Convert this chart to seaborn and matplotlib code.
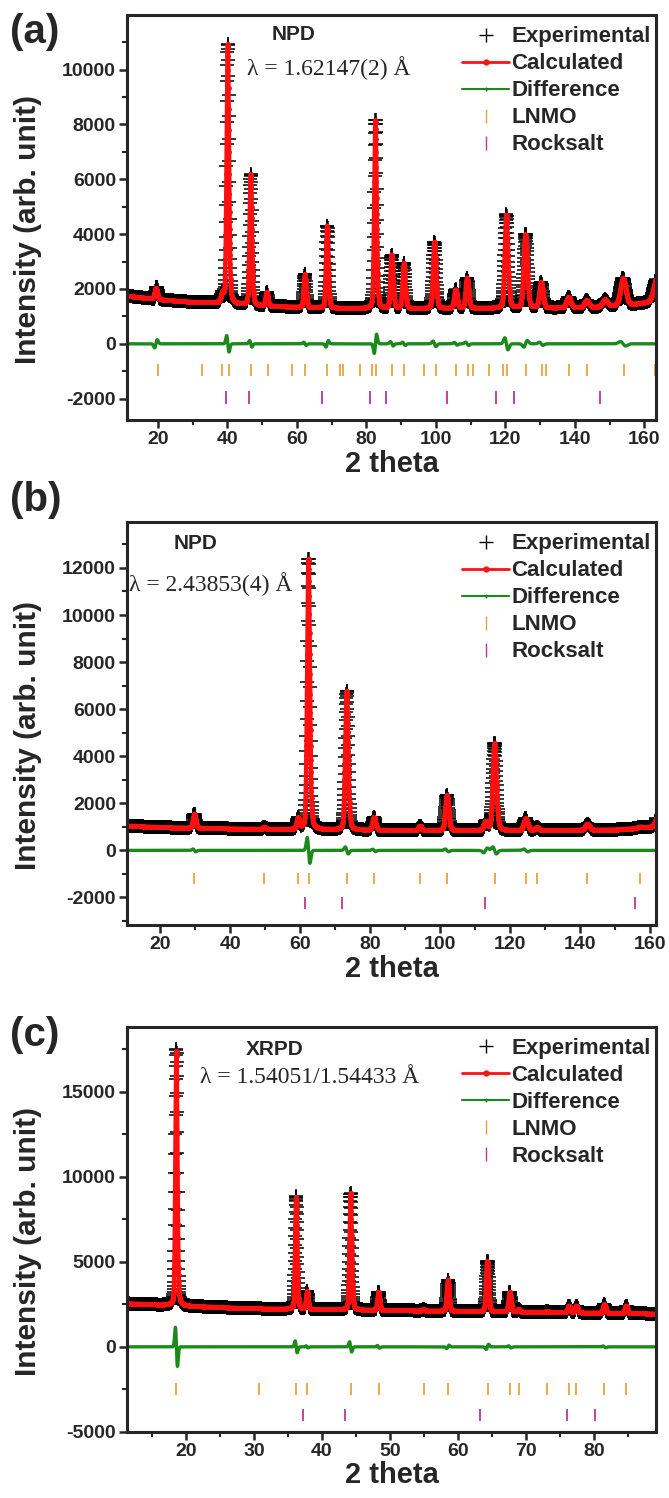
import numpy as np
import pandas as pd
import seaborn as sns
import matplotlib.pyplot as plt
from matplotlib.lines import Line2D
from matplotlib.ticker import MultipleLocator

# ---- panel (a): NPD, lambda = 1.62147 A ----
a_peak_pos = [19.4, 38.5, 40.1, 46.7, 51.3, 62.3, 68.7, 82.6, 87.3, 90.8, 99.6,
              105.7, 109.0, 120.3, 125.8, 130.3, 138.2, 143.4, 148.7, 153.9, 163.5]
a_peak_height = [400, 300, 9450, 4770, 500, 1200, 3000, 6870, 1950, 1650, 2420,
                 670, 1100, 3400, 2680, 930, 380, 250, 250, 1000, 800]
a_peak_fwhm = [0.9, 0.9, 0.8, 0.8, 0.8, 0.8, 0.8, 0.8, 0.9, 0.9, 1.0,
               1.0, 1.0, 1.1, 1.2, 1.2, 1.4, 1.5, 1.6, 1.8, 2.0]
a_diff_amp = [-150, 0, 300, 120, 0, 60, -120, -350, 80, 60, 100,
              50, 60, 220, -120, 60, 0, 0, 0, 80, 0]
a_bg_x = [11, 20, 30, 38, 50, 70, 90, 110, 130, 145, 155, 163.5]
a_bg_y = [1750, 1620, 1520, 1480, 1380, 1300, 1280, 1300, 1300, 1330, 1400, 1550]
a_lnmo = [19.9, 32.8, 38.5, 40.4, 46.9, 51.6, 58.5, 62.4, 68.7, 72.3, 73.4, 78.2,
          81.7, 82.8, 87.5, 90.8, 96.5, 100.0, 105.9, 109.3, 110.6, 115.4, 119.3,
          120.6, 125.9, 130.5, 131.7, 138.2, 143.4, 154.1, 163.1]
a_rocksalt = [39.6, 46.2, 67.3, 81.0, 85.5, 103.3, 117.4, 122.4, 147.3]

# ---- panel (b): NPD, lambda = 2.43853 A ----
b_peak_pos = [29.8, 49.8, 59.4, 62.4, 73.3, 81.1, 94.2, 101.9, 112.9, 115.5,
              124.4, 127.6, 142.0, 157.1, 163.0]
b_peak_height = [600, 100, 450, 11500, 5900, 550, 180, 1500, 350, 3700,
                 500, 120, 250, 60, 1300]
b_peak_fwhm = [0.9, 0.9, 0.9, 0.9, 1.0, 1.0, 1.1, 1.1, 1.2, 1.2,
               1.3, 1.3, 1.5, 1.7, 2.0]
b_diff_amp = [60, 0, 0, 550, 150, 50, 0, 60, -100, 150, 60, 0, 0, 0, 0]
b_bg_x = [10.5, 20, 50, 90, 130, 150, 158, 162]
b_bg_y = [1050, 980, 900, 850, 850, 880, 950, 1000]
b_lnmo = [29.8, 49.8, 59.4, 62.4, 73.3, 81.1, 94.2, 101.9, 115.5, 124.4, 127.6,
          142.0, 157.1]
b_rocksalt = [61.3, 72.0, 112.9, 155.5]

# ---- panel (c): XRPD, lambda = 1.54051/1.54433 A ----
c_peak_pos = [18.6, 30.75, 36.2, 37.8, 44.2, 48.3, 54.9, 58.5, 64.3, 67.6,
              68.9, 73.1, 76.3, 77.4, 81.5, 84.7]
c_peak_height = [15000, 50, 6600, 1050, 6850, 1050, 80, 1800, 2950, 1150,
                 150, 60, 400, 400, 500, 450]
c_peak_fwhm = [0.35, 0.35, 0.35, 0.35, 0.38, 0.38, 0.4, 0.4, 0.42, 0.42,
               0.42, 0.45, 0.45, 0.45, 0.45, 0.45]
c_diff_amp = [1150, 0, 350, 60, 300, 80, 0, -100, -150, 60,
              0, 0, 0, 0, 50, 0]
c_bg_x = [11.35, 20, 30, 50, 70, 89.1]
c_bg_y = [2550, 2400, 2250, 2150, 2050, 1950]
c_lnmo = [18.57, 30.75, 36.19, 37.84, 44.21, 48.32, 54.94, 58.53, 64.34, 67.60,
          68.89, 73.10, 76.31, 77.38, 81.49, 84.70]
c_rocksalt = [37.27, 43.41, 63.27, 76.00, 80.10]

series_labels = ["Experimental", "Calculated", "Difference", "LNMO", "Rocksalt"]
red = "#ff1010"
green = "#1b8a1b"
orange = "#e9a23b"
magenta = "#c2348f"


def calc_profile(x, pos, height, fwhm, bg_x, bg_y):
    y = np.interp(x, bg_x, bg_y)
    for p, h, w in zip(pos, height, fwhm):
        s = w / 2.3548
        gauss = np.exp(-0.5 * ((x - p) / s) ** 2)
        lor = 1.0 / (1.0 + ((x - p) / (w / 2)) ** 2)
        y = y + h * (0.75 * gauss + 0.25 * lor)
    return y


def misfit(x, pos, amp, fwhm):
    d = np.zeros_like(x)
    for p, a, w in zip(pos, amp, fwhm):
        u = (x - p) / (w / 2.3548)
        d = d - a * u * np.exp(-0.5 * u ** 2) / 0.6065
    return d


def draw_panel(ax, x, pos, height, fwhm, damp, bg_x, bg_y, lnmo, rock,
               lnmo_y, rock_y, tick_len):
    calc = calc_profile(x, pos, height, fwhm, bg_x, bg_y)
    diff = misfit(x, pos, damp, fwhm)
    df = pd.DataFrame({"two_theta": x, "obs": calc + diff, "calc": calc, "diff": diff})

    sns.lineplot(data=df, x="two_theta", y="obs", ax=ax, estimator=None, sort=False,
                 color="black", linestyle="", marker="+", markersize=10,
                 markeredgewidth=1.1, markeredgecolor="black")
    sns.lineplot(data=df, x="two_theta", y="calc", ax=ax, estimator=None, sort=False,
                 color=red, linewidth=3.2, marker="o", markersize=3.5,
                 markeredgewidth=0, markeredgecolor=red)
    sns.lineplot(data=df, x="two_theta", y="diff", ax=ax, estimator=None, sort=False,
                 color=green, linewidth=2.4)
    ax.vlines(lnmo, lnmo_y - tick_len, lnmo_y + tick_len, color=orange, linewidth=1.3)
    ax.vlines(rock, rock_y - tick_len, rock_y + tick_len, color=magenta, linewidth=1.3)


sns.set_style("ticks")
plt.rcParams['font.family'] = ['Liberation Sans Narrow', 'Liberation Sans', 'DejaVu Sans']
plt.rcParams['font.weight'] = 'bold'
plt.rcParams['axes.labelweight'] = 'bold'
plt.rcParams['axes.unicode_minus'] = False

fig = plt.figure(figsize=(6.69, 14.98), dpi=100)
ax_a = fig.add_axes([0.190, 0.7196, 0.7907, 0.2704])
ax_b = fig.add_axes([0.190, 0.3825, 0.7907, 0.2690])
ax_c = fig.add_axes([0.190, 0.0441, 0.7907, 0.2704])

x_a = np.arange(11.0, 163.5, 0.05)
x_b = np.arange(10.5, 161.7, 0.05)
x_c = np.arange(11.35, 89.1, 0.02)

draw_panel(ax_a, x_a, a_peak_pos, a_peak_height, a_peak_fwhm, a_diff_amp,
           a_bg_x, a_bg_y, a_lnmo, a_rocksalt, -950, -1950, 230)
draw_panel(ax_b, x_b, b_peak_pos, b_peak_height, b_peak_fwhm, b_diff_amp,
           b_bg_x, b_bg_y, b_lnmo, b_rocksalt, -1190, -2250, 250)
draw_panel(ax_c, x_c, c_peak_pos, c_peak_height, c_peak_fwhm, c_diff_amp,
           c_bg_x, c_bg_y, c_lnmo, c_rocksalt, -2470, -4000, 350)

ax_a.set_xlim(11.1, 163.4)
ax_a.set_ylim(-2780, 11990)
ax_b.set_xlim(10.6, 161.6)
ax_b.set_ylim(-3170, 13950)
ax_c.set_xlim(11.35, 89.1)
ax_c.set_ylim(-5000, 18800)

for ax, xmaj, xmin, ymaj, ymin in [(ax_a, 20, 10, 2000, 1000),
                                   (ax_b, 20, 10, 2000, 1000),
                                   (ax_c, 10, 5, 5000, 2500)]:
    ax.xaxis.set_major_locator(MultipleLocator(xmaj))
    ax.xaxis.set_minor_locator(MultipleLocator(xmin))
    ax.yaxis.set_major_locator(MultipleLocator(ymaj))
    ax.yaxis.set_minor_locator(MultipleLocator(ymin))
    ax.tick_params(axis="both", which="major", direction="out", length=6, width=1.8,
                   labelsize=14, top=False, right=False, pad=2)
    ax.tick_params(axis="both", which="minor", direction="out", length=3.5, width=1.5,
                   top=False, right=False)
    for sp in ax.spines.values():
        sp.set_linewidth(2.2)
        sp.set_visible(True)
    ax.set_xlabel("2 theta", fontsize=21, fontweight="bold", labelpad=1)
    ax.set_ylabel("Intensity (arb. unit)", fontsize=21.5, fontweight="bold")
    ax.yaxis.set_label_coords(-0.16, 0.47)
    for lab in ax.get_xticklabels() + ax.get_yticklabels():
        lab.set_fontweight("bold")

    handles = [
        Line2D([], [], color="black", marker="+", linestyle="None", markersize=10),
        Line2D([], [], color=red, marker="o", markersize=3.5, linewidth=2),
        Line2D([], [], color=green, marker="+", markersize=3, linewidth=1.5),
        Line2D([], [], color=orange, marker="|", linestyle="None", markersize=10),
        Line2D([], [], color=magenta, marker="|", linestyle="None", markersize=10),
    ]
    ax.legend(handles, series_labels, loc="upper right", bbox_to_anchor=(1.015, 1.005),
              frameon=False, prop={"size": 16, "weight": "bold"}, handlelength=2.1,
              handletextpad=0.1, labelspacing=0.27, borderaxespad=0.2, numpoints=1)

# annotations
ax_a.text(59, 11280, "NPD", ha="center", va="center", fontsize=15, fontweight="bold")
ax_a.text(45.5, 10070, "λ = 1.62147(2) Å", ha="left", va="center", fontsize=17,
          family="Liberation Serif", fontweight="normal")
ax_b.text(30, 13020, "NPD", ha="center", va="center", fontsize=15, fontweight="bold")
ax_b.text(11.0, 11320, "λ = 2.43853(4) Å", ha="left", va="center", fontsize=17,
          family="Liberation Serif", fontweight="normal")
ax_c.text(33, 17470, "XRPD", ha="center", va="center", fontsize=15, fontweight="bold")
ax_c.text(22, 15820, "λ = 1.54051/1.54433 Å", ha="left", va="center", fontsize=17,
          family="Liberation Serif", fontweight="normal")

fig.text(0.015, 1 - 32 / 1498, "(a)", fontsize=29, fontweight="bold", va="center")
fig.text(0.015, 1 - 500 / 1498, "(b)", fontsize=29, fontweight="bold", va="center")
fig.text(0.015, 1 - 1035 / 1498, "(c)", fontsize=29, fontweight="bold", va="center")

fig.savefig("out.png", dpi=100)
